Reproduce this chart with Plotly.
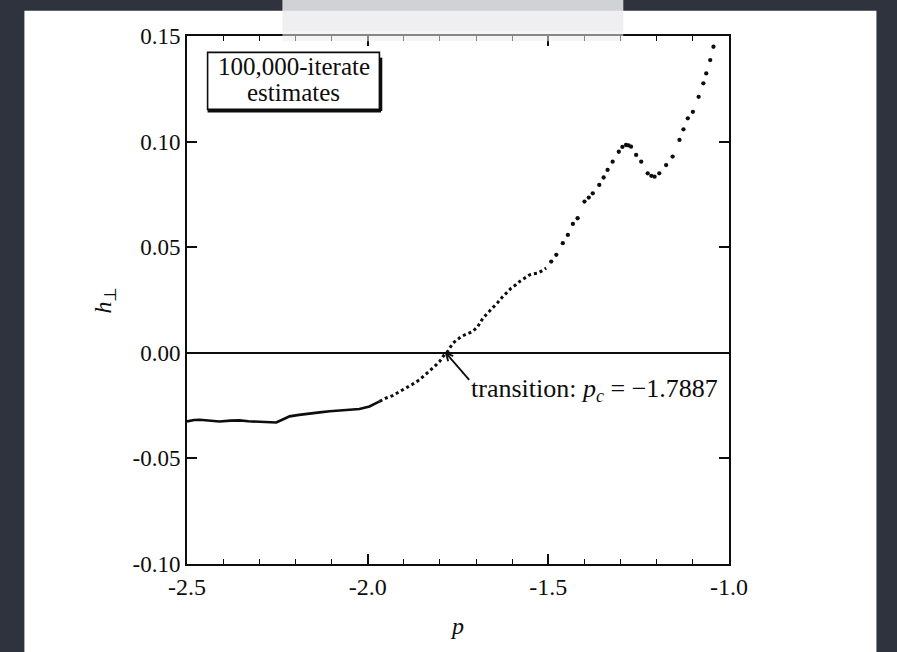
import plotly.graph_objects as go

# ---- data ----
# dense, nearly continuous part (left)
p_dense = [-2.500, -2.480, -2.465, -2.440, -2.410, -2.380, -2.355, -2.330, -2.299, -2.275,
           -2.253, -2.235, -2.216, -2.190, -2.170, -2.150, -2.133, -2.105, -2.078, -2.050,
           -2.023, -1.995, -1.967]
h_dense = [-0.0325, -0.0318, -0.0317, -0.0322, -0.0325, -0.0321, -0.0320, -0.0324, -0.0325, -0.0327,
           -0.0330, -0.0316, -0.0301, -0.0294, -0.0289, -0.0284, -0.0282, -0.0277, -0.0273, -0.0270,
           -0.0266, -0.0254, -0.0230]

# dotted middle part
p_mid = [-1.967, -1.950, -1.931, -1.912, -1.893, -1.875, -1.857, -1.843, -1.829, -1.815,
         -1.801, -1.789, -1.781, -1.764, -1.755, -1.741, -1.727, -1.709, -1.695, -1.681,
         -1.668, -1.654, -1.640, -1.626, -1.603, -1.590, -1.580, -1.566, -1.552, -1.540,
         -1.529, -1.518, -1.506]
h_mid = [-0.0230, -0.0215, -0.0203, -0.0185, -0.0167, -0.0148, -0.0128, -0.0108, -0.0088, -0.0065,
         -0.0041, -0.0012, 0.0000, 0.0046, 0.0058, 0.0077, 0.0088, 0.0101, 0.0125, 0.0164,
         0.0188, 0.0211, 0.0238, 0.0266, 0.0306, 0.0322, 0.0337, 0.0353, 0.0369, 0.0374,
         0.0377, 0.0388, 0.0401]

# sparse points (right)
p_sparse = [-1.492, -1.478, -1.460, -1.446, -1.432, -1.419, -1.400, -1.388, -1.377, -1.359,
            -1.347, -1.336, -1.322, -1.305, -1.295, -1.285, -1.278, -1.271, -1.257, -1.243,
            -1.225, -1.215, -1.206, -1.193, -1.174, -1.156, -1.137, -1.126, -1.114, -1.100,
            -1.084, -1.071, -1.063, -1.052, -1.043]
h_sparse = [0.0432, 0.0464, 0.0519, 0.0558, 0.0610, 0.0637, 0.0716, 0.0735, 0.0755, 0.0795,
            0.0830, 0.0866, 0.0905, 0.0952, 0.0975, 0.0984, 0.0982, 0.0976, 0.0937, 0.0905,
            0.0850, 0.0838, 0.0834, 0.0850, 0.0889, 0.0929, 0.1008, 0.1058, 0.1110, 0.1141,
            0.1212, 0.1276, 0.1323, 0.1386, 0.1449]

x_tickvals = [-2.5, -2.0, -1.5, -1.0]
x_ticktext = ["-2.5", "-2.0", "-1.5", "-1.0"]
y_tickvals = [-0.10, -0.05, 0.00, 0.05, 0.10, 0.15]
y_ticktext = ["-0.10", "-0.05", "0.00", "0.05", "0.10", "0.15"]

p_transition = -1.7887
transition_label = "transition: <i>p<sub>c</sub></i> = \u22121.7887"
box_lines = ["100,000-iterate", "estimates"]

INK = "#0d0d0d"
FONT = "Liberation Serif, Times New Roman, serif"
BG = "#2e333d"

fig = go.Figure()
fig.add_trace(go.Scatter(x=p_dense, y=h_dense, mode="lines",
                         line=dict(color=INK, width=2.6), hoverinfo="skip"))
fig.add_trace(go.Scatter(x=p_mid, y=h_mid, mode="lines",
                         line=dict(color=INK, width=3, dash="dot"), hoverinfo="skip"))
fig.add_trace(go.Scatter(x=p_sparse, y=h_sparse, mode="markers",
                         marker=dict(color=INK, size=4.3), hoverinfo="skip"))

# white page panel on dark slide
fig.add_shape(type="rect", xref="paper", yref="paper",
              x0=-0.30, x1=1.272, y0=-0.20, y1=1.048,
              fillcolor="white", line=dict(width=0), layer="below")

# legend-like box
bx0, bx1, by0, by1 = 0.038, 0.355, 0.861, 0.969
fig.add_shape(type="rect", xref="paper", yref="paper", x0=bx0, x1=bx1, y0=by0, y1=by1,
              line=dict(color=INK, width=1.6), fillcolor="rgba(0,0,0,0)")
fig.add_shape(type="line", xref="paper", yref="paper", x0=bx0, x1=bx1 + 0.003,
              y0=by0 - 0.003, y1=by0 - 0.003, line=dict(color=INK, width=3))
fig.add_shape(type="line", xref="paper", yref="paper", x0=bx1 + 0.003, x1=bx1 + 0.003,
              y0=by0 - 0.003, y1=by1 - 0.01, line=dict(color=INK, width=2.5))
fig.add_annotation(xref="paper", yref="paper", x=(bx0 + bx1) / 2, y=0.942,
                   xanchor="center", yanchor="middle",
                   text=box_lines[0], showarrow=False, font=dict(size=25, color=INK, family=FONT))
fig.add_annotation(xref="paper", yref="paper", x=(bx0 + bx1) / 2, y=0.893,
                   xanchor="center", yanchor="middle",
                   text=box_lines[1], showarrow=False, font=dict(size=25, color=INK, family=FONT))

# transition pointer (shaft + open head) and label
tip_x, tip_y = p_transition + 0.005, 0.0
fig.add_shape(type="line", x0=-1.719, y0=-0.0128, x1=tip_x, y1=tip_y,
              line=dict(color=INK, width=1.8))
fig.add_shape(type="line", x0=tip_x, y0=tip_y, x1=tip_x + 0.0065, y1=tip_y - 0.0040,
              line=dict(color=INK, width=1.8))
fig.add_shape(type="line", x0=tip_x, y0=tip_y, x1=tip_x + 0.0205, y1=tip_y - 0.0016,
              line=dict(color=INK, width=1.8))
fig.add_annotation(x=-1.72, y=-0.0175, xanchor="left", yanchor="middle",
                   text=transition_label, showarrow=False,
                   font=dict(size=26, color=INK, family=FONT))

# translucent grey tab at top
fig.add_shape(type="rect", xref="paper", yref="paper", x0=0.176, x1=0.805, y0=1.008, y1=1.07,
              fillcolor="rgba(236,236,239,0.86)", line=dict(width=0), layer="above")
fig.add_shape(type="rect", xref="paper", yref="paper", x0=0.176, x1=0.805, y0=0.990, y1=1.008,
              fillcolor="rgba(236,236,239,0.55)", line=dict(width=0), layer="above")

fig.update_layout(
    width=897, height=652,
    margin=dict(l=187, r=168, t=36, b=88),
    paper_bgcolor=BG, plot_bgcolor="white",
    showlegend=False,
    font=dict(family=FONT, color=INK, size=24),
)
fig.update_xaxes(
    range=[-2.5, -1.0], tickmode="array", tickvals=x_tickvals, ticktext=x_ticktext,
    ticks="inside", ticklen=10, tickwidth=1.6, tickcolor=INK,
    showline=True, linewidth=2, linecolor=INK, mirror="ticks",
    showgrid=False, zeroline=False,
    tickfont=dict(size=24, color=INK, family=FONT),
    minor=dict(tickmode="linear", tick0=-2.5, dtick=0.1, ticks="inside", ticklen=5,
               tickwidth=1.3, tickcolor=INK, showgrid=False),
    title=dict(text="<i>p</i>", font=dict(size=24, color=INK, family=FONT), standoff=18),
)
fig.update_yaxes(
    range=[-0.10, 0.15], tickmode="array", tickvals=y_tickvals, ticktext=y_ticktext,
    ticks="inside", ticklen=10, tickwidth=1.6, tickcolor=INK,
    showline=True, linewidth=2, linecolor=INK, mirror="ticks",
    showgrid=False, zeroline=True, zerolinecolor=INK, zerolinewidth=1.5,
    tickfont=dict(size=23, color=INK, family=FONT),
    title=dict(text="<i>h</i><sub>\u22a5</sub>", font=dict(size=24, color=INK, family=FONT), standoff=14),
)

page_fix = ("document.body.style.margin='0px';document.body.style.padding='0px';"
            "document.body.style.background='" + BG + "';"
            "document.documentElement.style.background='" + BG + "';")
fig.write_html("out.html", post_script=page_fix, config={"displayModeBar": False})
